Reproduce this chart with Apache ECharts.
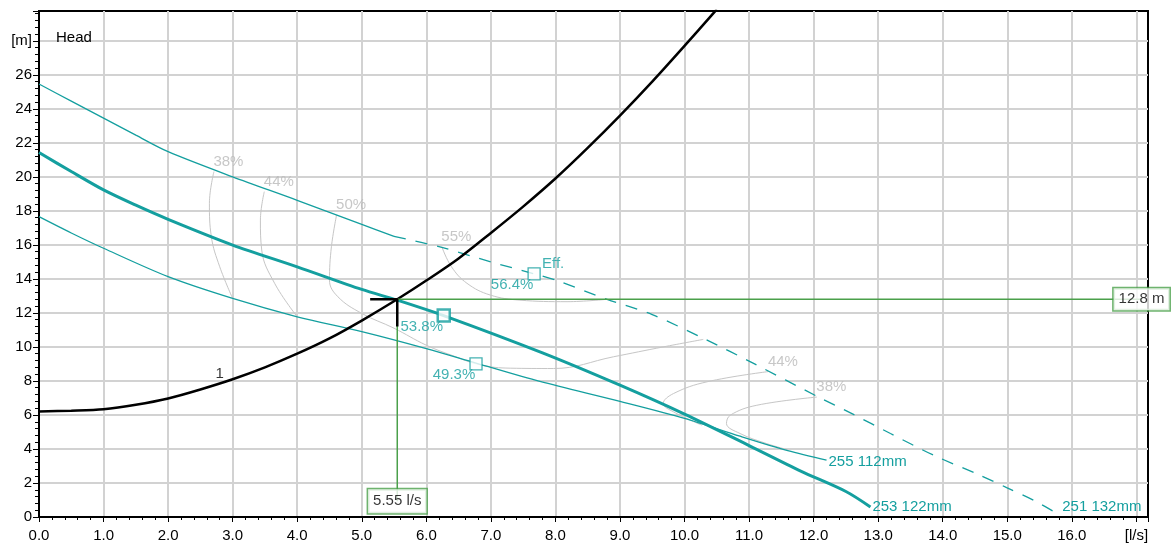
<!DOCTYPE html>
<html>
<head>
<meta charset="utf-8">
<title>Pump curves</title>
<script src="https://cdn.jsdelivr.net/npm/echarts@6/dist/echarts.min.js"></script>
<style>
html, body { margin: 0; padding: 0; background: #fff; }
#chart { width: 1175px; height: 544px; }
</style>
</head>
<body>
<div id="chart"></div>
<script>
// values: [flow l/s, head m]
var curve251 = [[0, 25.46], [0.5, 24.45], [1, 23.45], [1.5, 22.45], [2, 21.48], [3, 20.0], [4, 18.62], [5, 17.2], [5.5, 16.5]]
var curve251Ext = [[5.5, 16.5], [6.24, 15.85], [7, 15.0], [7.67, 14.3], [8, 13.93], [8.8, 12.8], [9.5, 11.9], [10.35, 10.4], [11.07, 9.03],
  [12.07, 7.06], [12.57, 6.12], [13.19, 4.91], [13.86, 3.63], [14.58, 2.45], [14.99, 1.73], [15.41, 0.98], [15.82, 0.1]]
var curve253 = [[0, 21.43], [0.5, 20.31], [1, 19.23], [1.5, 18.33], [2, 17.5], [3, 15.99], [4, 14.71], [5, 13.38], [5.55, 12.75],
  [6.3, 11.8], [7.8, 9.65], [9, 7.75], [10, 6.05], [11, 4.2], [11.8, 2.7], [12.5, 1.5], [12.88, 0.59]]
var curve255 = [[0, 17.66], [0.5, 16.7], [1, 15.8], [2, 14.13], [3, 12.85], [4, 11.77], [5, 10.9], [6, 9.9], [6.77, 9.05],
  [7.76, 7.97], [9, 6.8], [10, 5.8], [10.86, 4.75], [11.6, 3.9], [12.2, 3.34]]
var systemCurve = [[0, 6.2], [0.5, 6.25], [1, 6.34], [1.5, 6.6], [2, 6.97], [2.5, 7.5], [3, 8.1], [3.5, 8.8], [4, 9.6], [4.5, 10.5],
  [5, 11.55], [5.55, 12.8], [6, 13.9], [6.5, 15.2], [7, 16.7], [7.5, 18.25], [8, 19.9], [8.5, 21.7], [9, 23.6], [9.5, 25.6], [10, 27.7], [10.5, 29.85]]

// iso-efficiency lines, first point is where the label sits
var eff38a = [[2.71, 20.31], [2.64, 18.45], [2.67, 16.48], [2.8, 14.71], [3, 12.85]]
var eff44a = [[3.49, 19.13], [3.43, 17.46], [3.45, 15.7], [3.65, 13.74], [4, 11.77]]
var eff50 = [[4.61, 17.76], [4.53, 15.89], [4.5, 13.93], [4.63, 12.95], [5, 11.97], [5.5, 11.1], [6, 10.1], [6.4, 9.5], [6.83, 8.95],
  [7.3, 8.75], [7.97, 8.73], [8.9, 9.42], [9.67, 10.0], [10.29, 10.44]]
var eff55 = [[6.24, 15.89], [6.39, 14.71], [6.63, 13.74], [6.99, 13.05], [7.45, 12.75], [8.18, 12.66], [8.8, 12.8]]
var eff44b = [[11.3, 8.55], [10.35, 7.95], [9.83, 7.26], [9.67, 6.67], [9.83, 6.18], [10.27, 5.4]]
var eff38b = [[12.05, 7.05], [11.12, 6.57], [10.71, 5.99], [10.65, 5.5], [10.86, 4.91], [11.27, 4.32], [11.6, 3.95]]
var effLines = [['38%', eff38a], ['44%', eff44a], ['50%', eff50], ['55%', eff55], ['44%', eff44b], ['38%', eff38b]]

// duty point and efficiency marks
var dutyQ = 5.55
var dutyH = 12.8
var effMarks = [[6.27, 11.84, '53.8%'], [6.77, 9.0, '49.3%'], [7.67, 14.3, '56.4%']]

var font = "'Liberation Sans', Arial, sans-serif"
var teal = '#149f9f'
var green = '#4aa04a'
var grey = '#c6c6c6'

var chart = echarts.init(document.getElementById('chart'))

function pumpLine (data, width, dashed, name, offset) {
  var s = {
    type: 'line',
    data: data,
    smooth: 0.3,
    symbol: 'none',
    silent: true,
    z: 3,
    lineStyle: { color: teal, width: width, type: dashed ? [12, 10] : 'solid' }
  }
  if (name) {
    s.endLabel = { show: true, formatter: name, color: teal, fontSize: 15, fontFamily: font, distance: 2, offset: offset || [0, 0] }
  }
  return s
}

function textPoints (points, color, label, z) {
  return {
    type: 'scatter',
    symbolSize: 1,
    silent: true,
    z: z || 8,
    itemStyle: { color: 'transparent' },
    data: points.map(function (p) { return { value: [p[0], p[1]], name: p[2] } }),
    label: Object.assign({ show: true, formatter: '{b}', color: color, fontSize: 15, fontFamily: font }, label)
  }
}

var series = []

effLines.forEach(function (e) {
  series.push({
    type: 'line', data: e[1], smooth: 0.4, symbol: 'none', silent: true, z: 2,
    lineStyle: { color: grey, width: 1 }
  })
})
series.push(textPoints(effLines.map(function (e) { return [e[1][0][0], e[1][0][1], e[0]] }), '#b9b9b9',
  { position: [0, -2], align: 'left', verticalAlign: 'bottom' }, 2))

series.push(pumpLine(curve251, 1.3, false))
series.push(pumpLine(curve251Ext, 1.3, true, '251 132mm', [0, -8]))
series.push(pumpLine(curve253, 3, false, '253 122mm', [0, 0]))
series.push(pumpLine(curve255, 1.3, false, '255 112mm', [0, 2]))

series.push({
  type: 'line', data: systemCurve, smooth: 0.3, symbol: 'none', silent: true, z: 4,
  lineStyle: { color: '#000', width: 2.5 }
})
series.push(textPoints([[2.8, 8.4, '1']], '#000', { position: 'inside' }))

// green reading lines to the boxed values
series.push({
  type: 'line', data: [[dutyQ, dutyH], [17.08, dutyH]], symbol: 'none', silent: true, z: 5,
  lineStyle: { color: green, width: 1.5 }
})
series.push({
  type: 'line', data: [[dutyQ, dutyH], [dutyQ, 0.92]], symbol: 'none', silent: true, z: 5,
  lineStyle: { color: green, width: 1.5 }
})
// black duty cross
series.push({
  type: 'line', data: [[dutyQ - 0.42, dutyH], [dutyQ, dutyH], [dutyQ, dutyH - 1.6]], symbol: 'none', silent: true, z: 6,
  lineStyle: { color: '#000', width: 2.5 }
})

series.push({
  type: 'scatter',
  symbol: 'rect',
  symbolSize: 12,
  silent: true,
  z: 7,
  data: effMarks.map(function (m, i) {
    return { value: [m[0], m[1]], name: m[2], itemStyle: { borderWidth: i === 0 ? 2.5 : 1.3 } }
  }),
  itemStyle: { color: '#fff', borderColor: teal },
  label: { show: true, formatter: '{b}', position: 'inside', offset: [-22, 11], color: teal, fontSize: 15, fontFamily: font }
})
series.push(textPoints([[effMarks[2][0], effMarks[2][1], 'Eff.']], teal, { position: 'inside', offset: [19, -10] }))

var boxLabel = { position: 'inside', color: '#000', backgroundColor: '#fff', borderColor: green, borderWidth: 1.5, lineHeight: 16 }
series.push(textPoints([[17.08, dutyH, dutyH + ' m']], '#000', Object.assign({ padding: [3, 5] }, boxLabel), 9))
series.push(textPoints([[dutyQ, 0.92, dutyQ + ' l/s']], '#000', Object.assign({ padding: [4, 5] }, boxLabel), 9))

var option = {
  animation: false,
  textStyle: { fontFamily: font },
  title: {
    text: 'Head', left: 51, top: 25,
    textStyle: { fontSize: 15, fontWeight: 'normal', color: '#000', fontFamily: font }
  },
  grid: {
    left: 39, right: 27, top: 11, bottom: 27,
    show: true, borderColor: '#000', borderWidth: 2, backgroundColor: '#fff'
  },
  xAxis: {
    type: 'value', min: 0, max: 17.18, interval: 1,
    axisLine: { show: true, lineStyle: { color: '#000', width: 2 } },
    axisTick: { show: true, length: 5, lineStyle: { color: '#000' } },
    minorTick: { show: true, splitNumber: 5, length: 3, lineStyle: { color: '#000' } },
    splitLine: { show: true, showMaxLine: false, lineStyle: { color: '#d2d2d2', width: 2 } },
    axisLabel: {
      color: '#000', fontSize: 15, fontFamily: font, margin: 11, showMaxLabel: false,
      formatter: function (v) {
        if (v === 17) return '[l/s]'
        if (Math.abs(v - Math.round(v)) > 1e-6) return ''
        return v.toFixed(1)
      }
    }
  },
  yAxis: {
    type: 'value', min: 0, max: 29.75, interval: 2,
    axisLine: { show: true, lineStyle: { color: '#000', width: 2 } },
    axisTick: { show: true, length: 6, lineStyle: { color: '#000' } },
    minorTick: { show: true, splitNumber: 5, length: 4, lineStyle: { color: '#000' } },
    splitLine: { show: true, showMaxLine: false, lineStyle: { color: '#d2d2d2', width: 2 } },
    axisLabel: {
      color: '#000', fontSize: 15, fontFamily: font, margin: 7, showMaxLabel: false,
      formatter: function (v) {
        if (v === 28) return '[m]'
        if (v % 2 !== 0) return ''
        return String(v)
      }
    }
  },
  series: series
}

chart.setOption(option)
</script>
</body>
</html>
